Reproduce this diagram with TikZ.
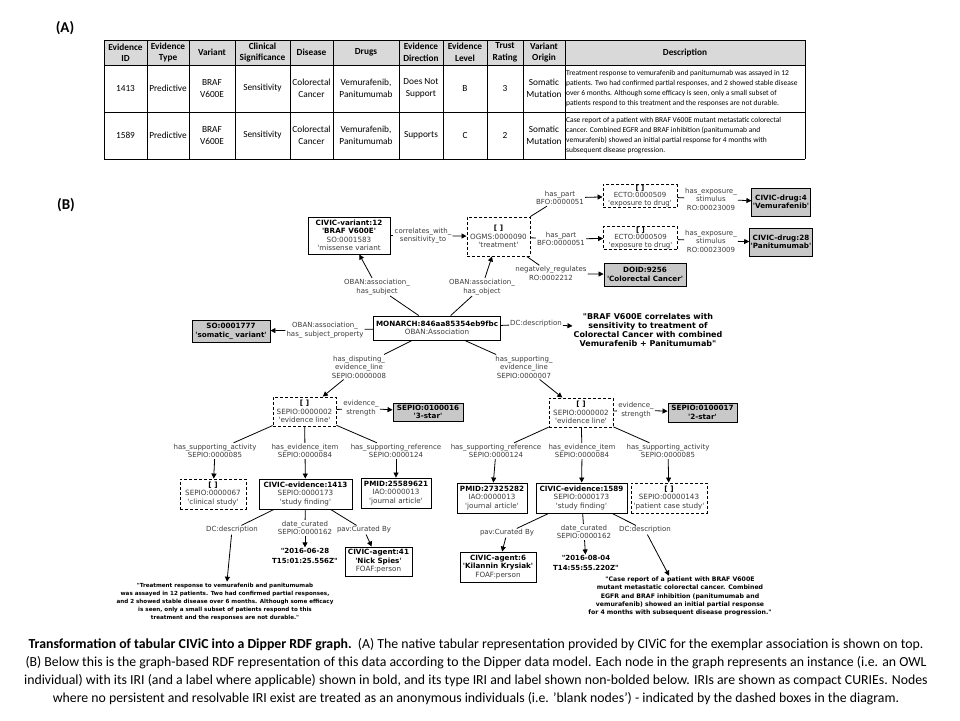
\documentclass[tikz,border=0pt]{standalone}
\usepackage{fontspec}
\setmainfont{Carlito}
\newfontfamily\gfont{DejaVu Sans}[Ligatures=TeXOff]
\usetikzlibrary{arrows.meta}

\definecolor{hdrgray}{HTML}{D9D9D9}
\definecolor{boxgray}{HTML}{C8C8C8}
\definecolor{txtgray}{HTML}{3C3C3C}

\newcommand{\iriname}[1]{\textcolor{black}{\bfseries #1}}

\tikzset{
  iri/.style={draw, line width=0.9pt, fill=white, align=center, inner sep=1pt,
    font=\gfont\fontsize{7.2}{8.5}\selectfont, text=txtgray},
  blank/.style={iri, dash pattern=on 3pt off 2pt},
  lit/.style={iri, fill=boxgray},
  tight/.style={font=\gfont\fontsize{7}{7.3}\selectfont},
  sz/.style 2 args={minimum width=#1, minimum height=#2},
  rel/.style={align=center, inner sep=1pt, font=\gfont\fontsize{7}{8.6}\selectfont, text=txtgray},
  quote/.style={align=center, inner sep=1pt, font=\gfont\bfseries\fontsize{5.6}{8.2}\selectfont},
  arr/.style={-{Triangle[length=5pt,width=5pt]}, line width=0.8pt},
  hdr/.style={align=center, inner sep=0pt, font=\bfseries\fontsize{9.3}{11.5}\selectfont},
  cell/.style={align=center, inner sep=0pt, font=\fontsize{9.3}{11.5}\selectfont},
}

\begin{document}
\begin{tikzpicture}[x=1pt, y=-1pt]
  \path[fill=white, use as bounding box] (0,0) rectangle (960,720);

  \node[font=\bfseries\fontsize{15}{17}\selectfont] (labA) at (65,28) {(A)};
  \node[font=\bfseries\fontsize{15}{17}\selectfont] (labB) at (66,205) {(B)};

  % table
  \fill[hdrgray] (104,40) rectangle (805,65);
  \foreach \y in {40,65,112,159} \draw[line width=0.8pt] (104,\y) -- (805,\y);
  \foreach \x in {104,147,189,235,290,333,399,443,487,523,565,805}
    \draw[line width=0.8pt] (\x,40) -- (\x,159);
  \foreach \cx/\t in {125.5/{Evidence\\ID}, 168/{Evidence\\Type}, 212/Variant,
      262.5/{Clinical\\Significance}, 311.5/Disease, 366/Drugs,
      421/{Evidence\\Direction}, 465/{Evidence\\Level}, 505/{Trust\\Rating},
      544/{Variant\\Origin}, 685/Description}
    \node[hdr] at (\cx,52.5) {\t};
  \foreach \cx/\t in {125.5/1413, 168/Predictive, 212/{BRAF\\V600E},
      262.5/Sensitivity, 311.5/{Colorectal\\Cancer}, 366/{Vemurafenib,\\Panitumumab},
      421/{Does Not\\Support}, 465/B, 505/3, 544/{Somatic\\Mutation}}
    \node[cell] at (\cx,88.5) {\t};
  \foreach \cx/\t in {125.5/1589, 168/Predictive, 212/{BRAF\\V600E},
      262.5/Sensitivity, 311.5/{Colorectal\\Cancer}, 366/{Vemurafenib,\\Panitumumab},
      421/Supports, 465/C, 505/2, 544/{Somatic\\Mutation}}
    \node[cell] at (\cx,135.5) {\t};
  \node[anchor=west, align=left, inner sep=0pt, font=\fontsize{7.5}{9.8}\selectfont] (desc1413) at (566,88.5)
    {Treatment response to vemurafenib and panitumumab was assayed in 12\\
     patients. Two had confirmed partial responses, and 2 showed stable disease\\
     over 6 months. Although some efficacy is seen, only a small subset of\\
     patients respond to this treatment and the responses are not durable.};
  \node[anchor=west, align=left, inner sep=0pt, font=\fontsize{7.5}{9.8}\selectfont] (desc1589) at (566,135.5)
    {Case report of a patient with BRAF V600E mutant metastatic colorectal\\
     cancer. Combined EGFR and BRAF inhibition (panitumumab and\\
     vemurafenib) showed an initial partial response for 4 months with\\
     subsequent disease progression.};

  % graph nodes
  \node[iri, sz={82}{37}] (variant) at (349,235.5) {\iriname{CIVIC-variant:12}\\\iriname{'BRAF V600E'}\\SO:0001583\\'missense variant};
  \node[blank, sz={63}{39}] (treat) at (498.5,236.5) {\iriname{[ ]}\\OGMS:0000090\\'treatment'};
  \node[blank, tight, sz={74}{23}] (expo1) at (640,196) {\iriname{[ ]}\\ECTO:0000509\\'exposure to drug'};
  \node[blank, tight, sz={74}{23}] (expo2) at (640.5,238) {\iriname{[ ]}\\ECTO:0000509\\'exposure to drug'};
  \node[lit, sz={58}{28}] (drug4) at (781,202) {\iriname{CIVIC-drug:4}\\\iriname{'Vemurafenib'}};
  \node[lit, sz={58}{28}] (drug28) at (781,242) {\iriname{CIVIC-drug:28}\\\iriname{'Panitumumab'}};
  \node[lit, sz={82}{23}] (doid) at (645,274.5) {\iriname{DOID:9256}\\\iriname{'Colorectal Cancer'}};
  \node[iri, sz={127}{24}] (monarch) at (437,328) {\iriname{MONARCH:846aa85354eb9fbc}\\OBAN:Association};
  \node[lit, sz={78}{22}] (somatic) at (231,331) {\iriname{SO:0001777}\\\iriname{'somatic\_ variant'}};
  \node[quote, font=\gfont\bfseries\fontsize{8}{9}\selectfont] (descA) at (648,330)
    {"BRAF V600E correlates with\\sensitivity to treatment of\\Colorectal Cancer with combined\\Vemurafenib + Panitumumab"};

  \node[blank, sz={63}{29}] (evl1) at (304.5,411.5) {\iriname{[ ]}\\SEPIO:0000002\\'evidence line'};
  \node[lit, sz={70}{18}] (star3) at (428,412) {\iriname{SEPIO:0100016}\\\iriname{'3-star'}};
  \node[blank, sz={64}{29}] (evl2) at (581,412.5) {\iriname{[ ]}\\SEPIO:0000002\\'evidence line'};
  \node[lit, sz={69}{19}] (star2) at (702.5,412.5) {\iriname{SEPIO:0100017}\\\iriname{'2-star'}};

  \node[blank, sz={66}{30}] (act1) at (213,494) {\iriname{[ ]}\\SEPIO:0000067\\'clinical study'};
  \node[iri, sz={93}{30}] (ev1413) at (305.5,494) {\iriname{CIVIC-evidence:1413}\\SEPIO:0000173\\'study finding'};
  \node[iri, sz={70}{30}] (pmid1) at (396,493) {\iriname{PMID:25589621}\\IAO:0000013\\'journal article'};
  \node[iri, sz={70}{30}] (pmid2) at (492,498) {\iriname{PMID:27325282}\\IAO:0000013\\'journal article'};
  \node[iri, sz={91}{30}] (ev1589) at (581.5,498) {\iriname{CIVIC-evidence:1589}\\SEPIO:0000173\\'study finding'};
  \node[blank, sz={76}{30}] (act2) at (669,498) {\iriname{[ ]}\\SEPIO:00000143\\'patient case study'};

  \node[quote, font=\gfont\bfseries\fontsize{7}{9.5}\selectfont] (date1) at (305,556) {"2016-06-28\\T15:01:25.556Z"};
  \node[iri, sz={67}{29}] (agent41) at (378.5,561.5) {\iriname{CIVIC-agent:41}\\\iriname{'Nick Spies'}\\FOAF:person};
  \node[quote] (desc1) at (225,602)
    {"Treatment response to vemurafenib and panitumumab\\was assayed in 12 patients. Two had confirmed partial responses,\\and 2 showed stable disease over 6 months. Although some efficacy\\is seen, only a small subset of patients respond to this\\treatment and the responses are not durable."};
  \node[iri, sz={76}{30}] (agent6) at (498,567) {\iriname{CIVIC-agent:6}\\\iriname{'Kilannin Krysiak'}\\FOAF:person};
  \node[quote, font=\gfont\bfseries\fontsize{7}{9.5}\selectfont] (date2) at (586,563) {"2016-08-04\\T14:55:55.220Z"};
  \node[quote, font=\gfont\bfseries\fontsize{6.2}{8.3}\selectfont] (desc2) at (680,596.5)
    {"Case report of a patient with BRAF V600E\\mutant metastatic colorectal cancer. Combined\\EGFR and BRAF inhibition (panitumumab and\\vemurafenib) showed an initial partial response\\for 4 months with subsequent disease progression."};

  % edge labels
  \node[rel] (lsubj) at (377,287) {OBAN:association\_\\has\_subject};
  \node[rel] (lobj) at (482,287) {OBAN:association\_\\has\_object};
  \node[rel] (lcorr) at (423,235.5) {correlates\_with\_\\sensitivity\_to};
  \node[rel] (lpart1) at (560,198) {has\_part\\BFO:0000051};
  \node[rel] (lpart2) at (561,239) {has\_part\\BFO:0000051};
  \node[rel] (lneg) at (551,273.5) {negatvely\_regulates\\RO:0002212};
  \node[rel] (lexp1) at (711,199) {has\_exposure\_\\stimulus\\RO:00023009};
  \node[rel] (lexp2) at (711,241) {has\_exposure\_\\stimulus\\RO:00023009};
  \node[rel] (lsprop) at (325,330) {OBAN:association\_\\has\_ subject\_property};
  \node[rel] (ldc) at (536,324) {DC:description};
  \node[rel] (ldisp) at (359,367) {has\_disputing\_\\evidence\_line\\SEPIO:0000008};
  \node[rel] (lsupp) at (524,367) {has\_supporting\_\\evidence\_line\\SEPIO:0000007};
  \node[rel] (lstr1) at (361,408) {evidence\_\\strength};
  \node[rel] (lstr2) at (636,410) {evidence\_\\strength};
  \node[rel] (lact1) at (215,451) {has\_supporting\_activity\\SEPIO:0000085};
  \node[rel] (litem1) at (305,451) {has\_evidence\_item\\SEPIO:0000084};
  \node[rel] (lref1) at (396,451) {has\_supporting\_reference\\SEPIO:0000124};
  \node[rel] (lref2) at (496,451) {has\_supporting\_reference\\SEPIO:0000124};
  \node[rel] (litem2) at (582,451) {has\_evidence\_item\\SEPIO:0000084};
  \node[rel] (lact2) at (668,451) {has\_supporting\_activity\\SEPIO:0000085};
  \node[rel] (ldesc1) at (232,530) {DC:description};
  \node[rel] (ldate1) at (305,528) {date\_curated\\SEPIO:0000162};
  \node[rel] (lcur1) at (364,530) {pav:Curated By};
  \node[rel] (lcur2) at (507,533) {pav:Curated By};
  \node[rel] (ldate2) at (584,532) {date\_curated\\SEPIO:0000162};
  \node[rel] (ldesc2) at (645,530) {DC:description};

  % edges
  \foreach \a/\l/\b in {monarch/lsubj/variant, monarch/lobj/treat, variant/lcorr/treat,
      treat/lpart1/expo1, treat/lpart2/expo2, treat/lneg/doid, expo1/lexp1/drug4,
      expo2/lexp2/drug28, monarch/lsprop/somatic, monarch/ldc/descA,
      monarch/ldisp/evl1, monarch/lsupp/evl2, evl1/lstr1/star3, evl2/lstr2/star2,
      evl1/lact1/act1, evl1/litem1/ev1413, evl1/lref1/pmid1,
      evl2/lref2/pmid2, evl2/litem2/ev1589, evl2/lact2/act2,
      ev1413/ldesc1/desc1, ev1413/ldate1/date1, ev1413/lcur1/agent41,
      ev1589/lcur2/agent6, ev1589/ldate2/date2, ev1589/ldesc2/desc2}
  {
    \draw[line width=0.8pt] (\a) -- (\l);
    \draw[arr] (\l) -- (\b);
  }

  \node[align=center, font=\fontsize{13.8}{18}\selectfont] (caption) at (476,672)
    {\textbf{Transformation of tabular CIViC into a Dipper RDF graph.}\ \ (A) The native tabular representation provided by CIViC for the exemplar association is shown on top.\\
     (B) Below this is the graph-based RDF representation of this data according to the Dipper data model. Each node in the graph represents an instance (i.e. an OWL\\
     individual) with its IRI (and a label where applicable) shown in bold, and its type IRI and label shown non-bolded below. IRIs are shown as compact CURIEs. Nodes\\
     where no persistent and resolvable IRI exist are treated as an anonymous individuals (i.e. 'blank nodes') - indicated by the dashed boxes in the diagram.};
\end{tikzpicture}
\end{document}
